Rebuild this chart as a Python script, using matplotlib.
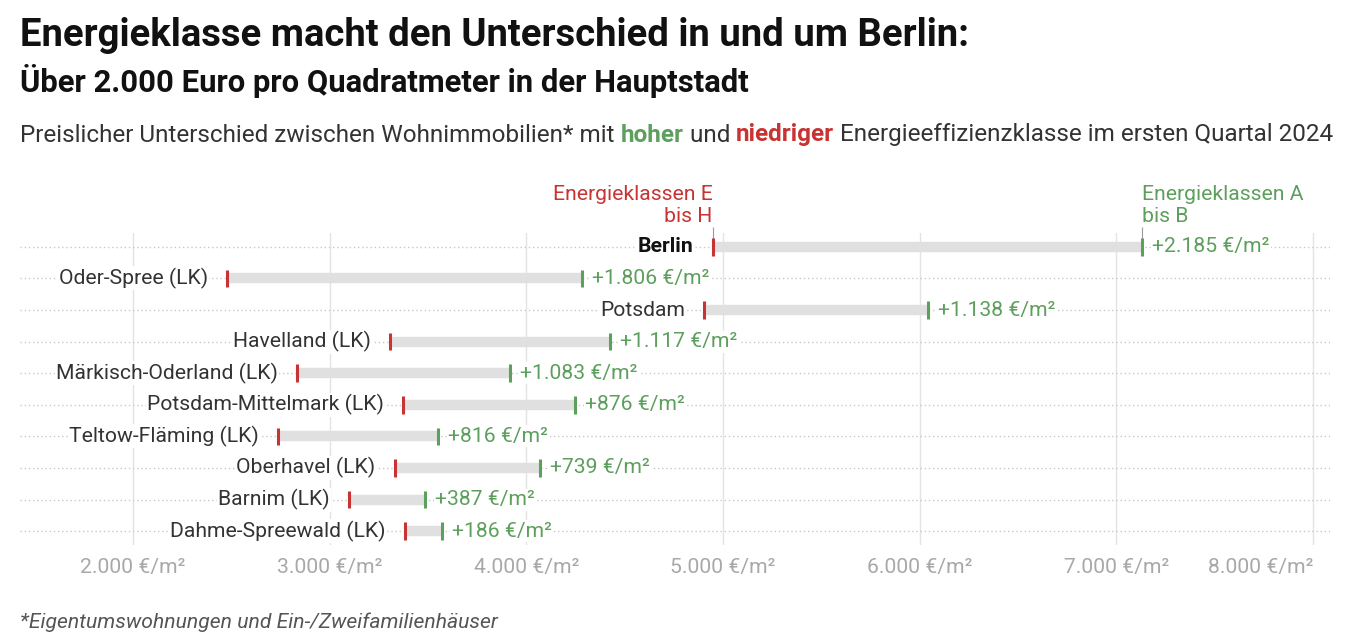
import matplotlib.pyplot as plt
import numpy as np

plt.rcParams['font.family'] = ['Roboto', 'DejaVu Sans']

# Daten: Preise in €/m² (Q1 2024)
regionen = ['Berlin', 'Oder-Spree (LK)', 'Potsdam', 'Havelland (LK)', 'Märkisch-Oderland (LK)',
            'Potsdam-Mittelmark (LK)', 'Teltow-Fläming (LK)', 'Oberhavel (LK)', 'Barnim (LK)',
            'Dahme-Spreewald (LK)']
preis_niedrig = [4947, 2477, 4905, 3308, 2834, 3373, 2737, 3330, 3098, 3383]   # Energieklassen E bis H
preis_hoch = [7132, 4283, 6043, 4425, 3917, 4249, 3553, 4069, 3485, 3569]      # Energieklassen A bis B
xticks = [2000, 3000, 4000, 5000, 6000, 7000, 8000]

ROT = '#c83333'
GRUEN = '#5d9f5d'
GRAU = '#e0e0e0'
FS = 15.2

W, H = 1355, 640
fig = plt.figure(figsize=(W / 100, H / 100), dpi=100)

# Achse: x von 20 bis 1330 px, y von 233 bis 545 px
ax = fig.add_axes([20 / W, 1 - 545 / H, 1310 / W, 312 / H])
px = 1180 / 6000  # Pixel pro €/m²
ax.set_xlim(2000 - 113 / px, 8000 + 17 / px)
ax.set_ylim(9.44, -0.44)
for s in ax.spines.values():
    s.set_visible(False)
ax.set_yticks([])
ax.set_xticks(xticks)
ax.set_xticklabels([f'{v:,} €/m²'.replace(',', '.') for v in xticks], color='#a8a8a8', fontsize=FS)
ax.tick_params(axis='x', length=0, pad=9)
lbls = ax.get_xticklabels()
lbls[-1].set_ha('right')
ax.grid(axis='x', color='#e3e3e3', linewidth=1)
ax.set_axisbelow(True)

y = np.arange(len(regionen))
xmin, xmax = ax.get_xlim()
ax.hlines(y, xmin, xmax, color='#c8c8c8', linewidth=1, linestyles=(0, (1, 2)), zorder=1)

ax.hlines(y, preis_niedrig, preis_hoch, color=GRAU, linewidth=7.5, zorder=2)
ax.vlines(preis_niedrig, y - 0.28, y + 0.28, color=ROT, linewidth=2.2, zorder=3)
ax.vlines(preis_hoch, y - 0.28, y + 0.28, color=GRUEN, linewidth=2.2, zorder=3)

for i, name in enumerate(regionen):
    bold = name == 'Berlin'
    ax.text(preis_niedrig[i] - 19 / px, i, name, ha='right', va='center', fontsize=FS,
            color='#111111' if bold else '#333333', fontweight='bold' if bold else 'normal',
            bbox=dict(facecolor='white', edgecolor='none', pad=1), zorder=4)
    diff = preis_hoch[i] - preis_niedrig[i]
    ax.text(preis_hoch[i] + 10 / px, i, f'+{diff:,} €/m²'.replace(',', '.'), ha='left', va='center',
            fontsize=FS, color=GRUEN, bbox=dict(facecolor='white', edgecolor='none', pad=1), zorder=4)

# Beschriftung der Energieklassen bei Berlin
ax.vlines([preis_niedrig[0], preis_hoch[0]], -0.62, -0.25, color='#999999', linewidth=0.8, clip_on=False)
ax.text(preis_niedrig[0], -0.66, 'Energieklassen E\nbis H', ha='right', va='bottom', fontsize=FS,
        color=ROT, linespacing=1.2)
ax.text(preis_hoch[0], -0.66, 'Energieklassen A\nbis B', ha='left', va='bottom', fontsize=FS,
        color=GRUEN, linespacing=1.2)

# Titel
fig.text(20 / W, 1 - 35 / H, 'Energieklasse macht den Unterschied in und um Berlin:', fontsize=27.5,
         fontweight='bold', va='center', ha='left', color='#111111')
fig.text(20 / W, 1 - 81 / H, 'Über 2.000 Euro pro Quadratmeter in der Hauptstadt', fontsize=22.3,
         fontweight='bold', va='center', ha='left', color='#111111')

# Untertitel mit farbigen Wörtern
teile = [('Preislicher Unterschied zwischen Wohnimmobilien* mit ', '#333333', 'normal'),
         ('hoher', GRUEN, 'bold'),
         (' und ', '#333333', 'normal'),
         ('niedriger', ROT, 'bold'),
         (' Energieeffizienzklasse im ersten Quartal 2024', '#333333', 'normal')]
renderer = fig.canvas.get_renderer()
x0 = 20
for txt, col, fw in teile:
    t = fig.text(x0 / W, 1 - 135 / H, txt, fontsize=17.5, color=col, fontweight=fw, va='center', ha='left')
    bb = t.get_window_extent(renderer=renderer)
    x0 += bb.width

fig.text(20 / W, 1 - 622 / H, '*Eigentumswohnungen und Ein-/Zweifamilienhäuser', fontsize=FS,
         style='italic', color='#555555', va='center', ha='left')

fig.savefig('out.png', dpi=100)
